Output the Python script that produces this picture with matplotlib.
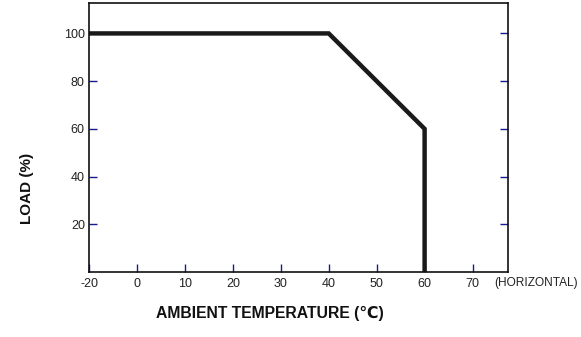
import numpy as np
import matplotlib
matplotlib.use("Agg")
import matplotlib.pyplot as plt

# 降额曲线数据
temps = [-20, 40, 60, 60]
load = [100, 100, 60, 0]
x_ticks = [-20, 0, 10, 20, 30, 40, 50, 60, 70]
y_ticks = [20, 40, 60, 80, 100]

plt.rcParams['font.family'] = ['Liberation Sans', 'DejaVu Sans']


# 原图 -20~0 区间被压缩为一半宽度
def fwd(x):
    x = np.asarray(x, dtype=float)
    return np.where(x < 0, x / 2, x)


def inv(x):
    x = np.asarray(x, dtype=float)
    return np.where(x < 0, x * 2, x)


fig = plt.figure(figsize=(5.81, 3.37), dpi=100)
ax = fig.add_axes([0.1532, 0.1929, 0.7212, 0.7971])
ax.set_xscale('function', functions=(fwd, inv))

ax.plot(temps, load, color='#1a1a1a', lw=3.2, solid_joinstyle='miter',
        solid_capstyle='butt', clip_on=True)

ax.set_xlim(-20, 77.4)
ax.set_ylim(0, 112.6)
ax.set_xticks(x_ticks)
ax.set_xticklabels([str(t) for t in x_ticks])
ax.set_yticks(y_ticks)
ax.set_yticklabels([str(t) for t in y_ticks])
ax.minorticks_off()

ax.tick_params(axis='x', direction='in', length=6, width=1, color='#1a1a8c',
               labelsize=9, labelcolor='#222222', pad=4.5, top=False)
ax.tick_params(axis='y', direction='in', length=6, width=1, color='#1a1a8c',
               labelsize=9, labelcolor='#222222', pad=3, right=True)

for s in ax.spines.values():
    s.set_linewidth(1.2)
    s.set_color('#111111')

ax.text(0.967, -0.041, '(HORIZONTAL)', transform=ax.transAxes, fontsize=8.6,
        color='#222222', ha='left', va='center')

fig.text(0.465, 0.07, 'AMBIENT TEMPERATURE (℃)', fontsize=11.3,
         fontweight='bold', ha='center', va='center', color='#111111')
fig.text(0.047, 0.44, 'LOAD (%)', fontsize=11, fontweight='bold',
         rotation=90, ha='center', va='center', color='#111111')

fig.savefig('out.png', dpi=100)
